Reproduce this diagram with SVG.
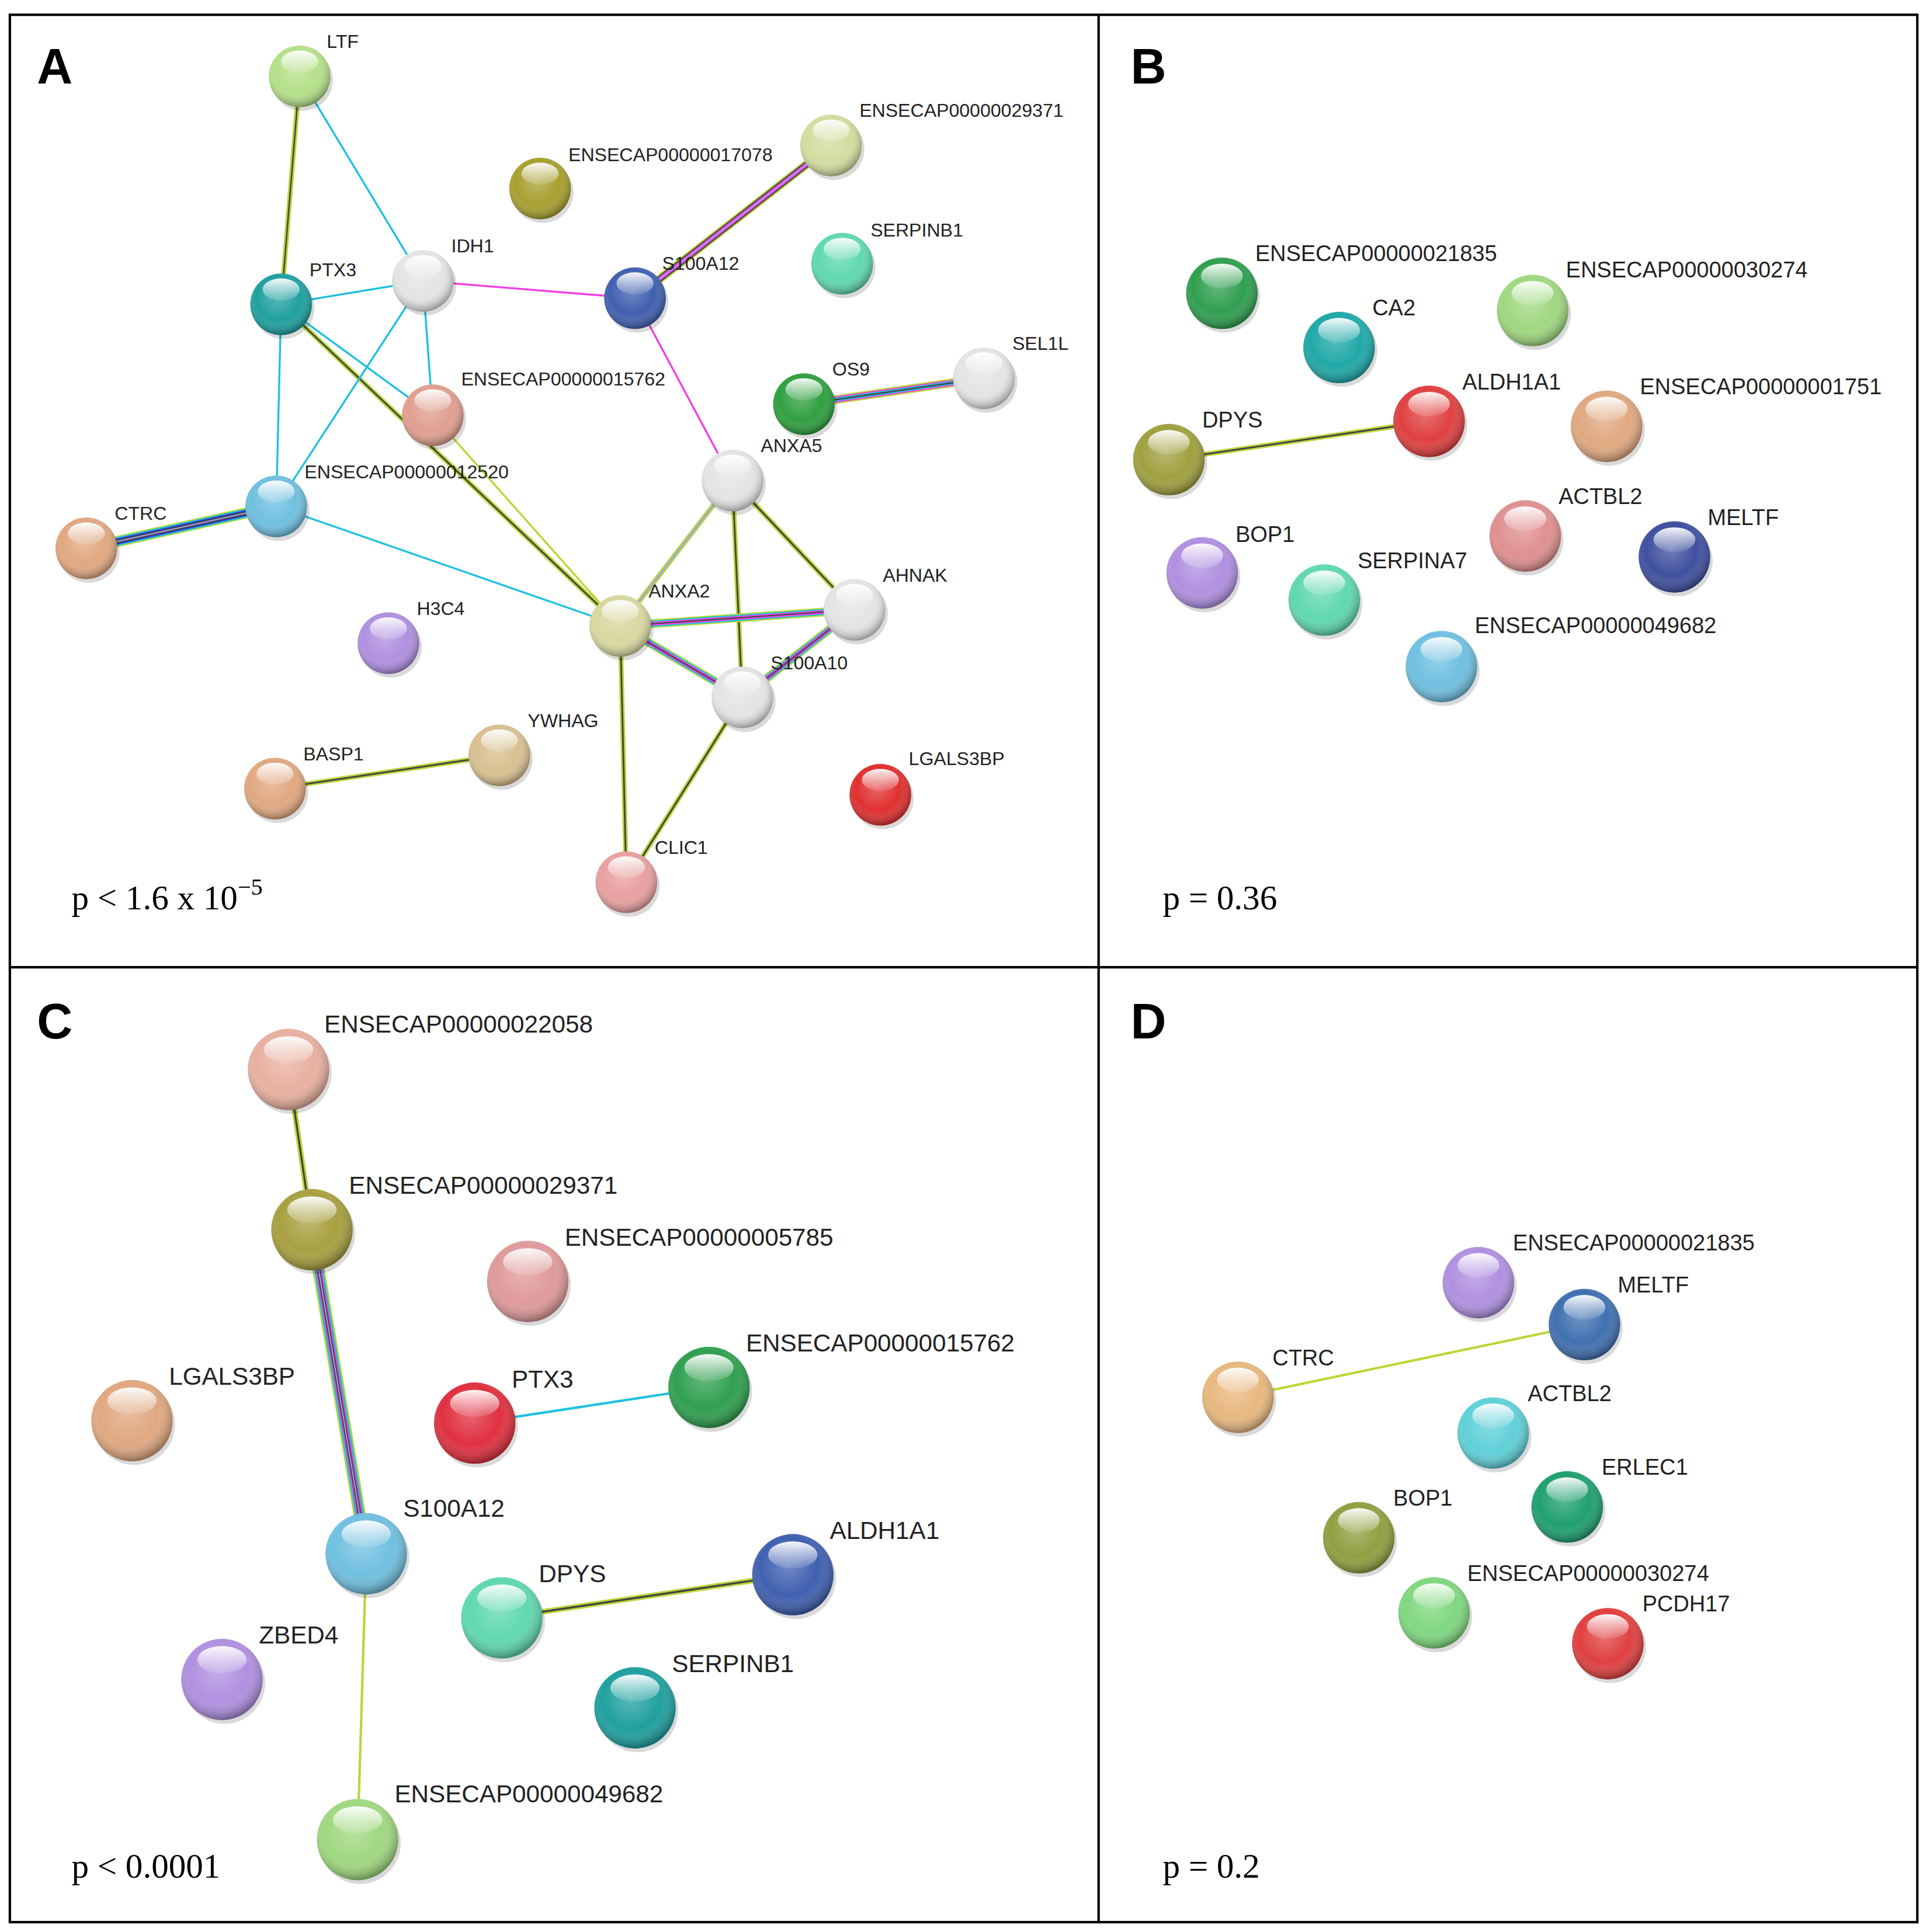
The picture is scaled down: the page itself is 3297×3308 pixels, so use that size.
<svg xmlns="http://www.w3.org/2000/svg" width="3297" height="3308" viewBox="0 0 3297 3308">
<style>
.la{font-family:"Liberation Sans",Arial,sans-serif;font-size:15.2px;fill:#222}
.lb{font-family:"Liberation Sans",Arial,sans-serif;font-size:18px;fill:#222}
.lc{font-family:"Liberation Sans",Arial,sans-serif;font-size:20px;fill:#222}
.pl{font-family:"Liberation Sans",Arial,sans-serif;font-size:40px;font-weight:bold;fill:#000}
.pv{font-family:"Liberation Serif","Times New Roman",serif;font-size:28px;fill:#000}
.sh{fill:url(#shade)}
.hl{fill:url(#hl)}
.ds{fill:#000;opacity:.15}
</style>
<defs>
<radialGradient id="shade" cx="0.45" cy="0.4" r="0.6">
<stop offset="0" stop-color="#fff" stop-opacity="0.25"/>
<stop offset="0.6" stop-color="#fff" stop-opacity="0"/>
<stop offset="1" stop-color="#000" stop-opacity="0.35"/>
</radialGradient>
<linearGradient id="hl" x1="0" y1="0" x2="0" y2="1">
<stop offset="0" stop-color="#fff" stop-opacity="0.95"/>
<stop offset="1" stop-color="#fff" stop-opacity="0.1"/>
</linearGradient>
</defs>
<rect width="3297" height="3308" fill="#fff"/>
<g transform="scale(2.1107 2.1097)">
<g id="frame" fill="none" stroke="#000" stroke-width="2">
<rect x="8" y="12" width="1547" height="1548"/>
<line x1="891" y1="12" x2="891" y2="1560"/>
<line x1="8" y1="785" x2="1555" y2="785"/>
</g>
<text class="pl" x="30" y="68">A</text>
<text class="pl" x="917" y="68">B</text>
<text class="pl" x="30" y="843">C</text>
<text class="pl" x="917" y="843">D</text>
<text class="pv" x="58" y="738">p &lt; 1.6 x 10<tspan dy="-12" font-size="19">−5</tspan></text>
<text class="pv" x="943" y="738">p = 0.36</text>
<text class="pv" x="58" y="1524">p &lt; 0.0001</text>
<text class="pv" x="943" y="1524">p = 0.2</text>

<g id="connectors" stroke-linecap="round">
<line x1="243" y1="62" x2="228" y2="247" stroke="#b8d838" stroke-width="4"/><line x1="243" y1="62" x2="228" y2="247" stroke="#444" stroke-width="1.2"/>
<line x1="243" y1="62" x2="343" y2="228" stroke="#20c0e0" stroke-width="1.6"/>
<line x1="228" y1="247" x2="343" y2="228" stroke="#20c0e0" stroke-width="1.6"/>
<line x1="228" y1="247" x2="351" y2="337" stroke="#20c0e0" stroke-width="1.6"/>
<line x1="228" y1="247" x2="224" y2="411" stroke="#20c0e0" stroke-width="1.6"/>
<line x1="228" y1="247" x2="503" y2="508" stroke="#b8d838" stroke-width="4"/><line x1="228" y1="247" x2="503" y2="508" stroke="#444" stroke-width="1.4"/>
<line x1="343" y1="228" x2="351" y2="337" stroke="#20c0e0" stroke-width="1.6"/>
<line x1="343" y1="228" x2="224" y2="411" stroke="#20c0e0" stroke-width="1.6"/>
<line x1="343" y1="228" x2="515" y2="242" stroke="#f040e0" stroke-width="1.6"/>
<line x1="515" y1="242" x2="674" y2="118" stroke="#b8d838" stroke-width="7"/><line x1="515" y1="242" x2="674" y2="118" stroke="#444" stroke-width="5"/><line x1="515" y1="242" x2="674" y2="118" stroke="#f040e0" stroke-width="3"/><line x1="515" y1="242" x2="674" y2="118" stroke="#a0a0f0" stroke-width="1"/>
<line x1="515" y1="242" x2="594" y2="390" stroke="#f040e0" stroke-width="1.6"/>
<line x1="652" y1="328" x2="798" y2="307" stroke="#b8d838" stroke-width="7"/><line x1="652" y1="328" x2="798" y2="307" stroke="#f040e0" stroke-width="5"/><line x1="652" y1="328" x2="798" y2="307" stroke="#20c0e0" stroke-width="3"/><line x1="652" y1="328" x2="798" y2="307" stroke="#444" stroke-width="1.2"/>
<line x1="351" y1="337" x2="503" y2="508" stroke="#b8d838" stroke-width="1.6"/>
<line x1="224" y1="411" x2="70" y2="445" stroke="#b8d838" stroke-width="9"/><line x1="224" y1="411" x2="70" y2="445" stroke="#20c0e0" stroke-width="7"/><line x1="224" y1="411" x2="70" y2="445" stroke="#3040d0" stroke-width="5"/><line x1="224" y1="411" x2="70" y2="445" stroke="#444" stroke-width="3"/><line x1="224" y1="411" x2="70" y2="445" stroke="#a0a0f0" stroke-width="1"/>
<line x1="224" y1="411" x2="503" y2="508" stroke="#20c0e0" stroke-width="1.6"/>
<line x1="594" y1="390" x2="503" y2="508" stroke="#b8d838" stroke-width="4"/><line x1="594" y1="390" x2="503" y2="508" stroke="#a0a0f0" stroke-width="1.4"/>
<line x1="594" y1="390" x2="693" y2="495" stroke="#b8d838" stroke-width="4"/><line x1="594" y1="390" x2="693" y2="495" stroke="#444" stroke-width="1.4"/>
<line x1="594" y1="390" x2="602" y2="566" stroke="#b8d838" stroke-width="4"/><line x1="594" y1="390" x2="602" y2="566" stroke="#444" stroke-width="1.4"/>
<line x1="503" y1="508" x2="693" y2="495" stroke="#b8d838" stroke-width="7"/><line x1="503" y1="508" x2="693" y2="495" stroke="#20c0e0" stroke-width="5"/><line x1="503" y1="508" x2="693" y2="495" stroke="#f040e0" stroke-width="3"/><line x1="503" y1="508" x2="693" y2="495" stroke="#444" stroke-width="1"/>
<line x1="503" y1="508" x2="602" y2="566" stroke="#b8d838" stroke-width="7"/><line x1="503" y1="508" x2="602" y2="566" stroke="#20c0e0" stroke-width="5"/><line x1="503" y1="508" x2="602" y2="566" stroke="#f040e0" stroke-width="3"/><line x1="503" y1="508" x2="602" y2="566" stroke="#444" stroke-width="1"/>
<line x1="693" y1="495" x2="602" y2="566" stroke="#b8d838" stroke-width="7"/><line x1="693" y1="495" x2="602" y2="566" stroke="#20c0e0" stroke-width="5"/><line x1="693" y1="495" x2="602" y2="566" stroke="#f040e0" stroke-width="3"/><line x1="693" y1="495" x2="602" y2="566" stroke="#444" stroke-width="1"/>
<line x1="503" y1="508" x2="508" y2="716" stroke="#b8d838" stroke-width="4"/><line x1="503" y1="508" x2="508" y2="716" stroke="#444" stroke-width="1.4"/>
<line x1="602" y1="566" x2="508" y2="716" stroke="#b8d838" stroke-width="4"/><line x1="602" y1="566" x2="508" y2="716" stroke="#444" stroke-width="1.4"/>
<line x1="223" y1="640" x2="405" y2="613" stroke="#b8d838" stroke-width="4"/><line x1="223" y1="640" x2="405" y2="613" stroke="#444" stroke-width="1.4"/>
<line x1="948" y1="373" x2="1159" y2="342" stroke="#b8d838" stroke-width="4"/><line x1="948" y1="373" x2="1159" y2="342" stroke="#444" stroke-width="1.4"/>
<line x1="234" y1="868" x2="253" y2="998" stroke="#b8d838" stroke-width="4.5"/><line x1="234" y1="868" x2="253" y2="998" stroke="#444" stroke-width="1.6"/>
<line x1="253" y1="998" x2="297" y2="1261" stroke="#b8d838" stroke-width="10"/><line x1="253" y1="998" x2="297" y2="1261" stroke="#20c0e0" stroke-width="7.5"/><line x1="253" y1="998" x2="297" y2="1261" stroke="#f040e0" stroke-width="5"/><line x1="253" y1="998" x2="297" y2="1261" stroke="#444" stroke-width="3"/><line x1="253" y1="998" x2="297" y2="1261" stroke="#a0a0f0" stroke-width="1"/>
<line x1="385" y1="1155" x2="575" y2="1126" stroke="#20c0e0" stroke-width="2"/>
<line x1="407" y1="1313" x2="643" y2="1278" stroke="#b8d838" stroke-width="4.5"/><line x1="407" y1="1313" x2="643" y2="1278" stroke="#444" stroke-width="1.6"/>
<line x1="297" y1="1261" x2="290" y2="1493" stroke="#b8d838" stroke-width="2"/>
<line x1="1004" y1="1134" x2="1285" y2="1075" stroke="#b8d838" stroke-width="2"/>
</g>

<g id="A_LTF"><circle class="ds" cx="245" cy="65" r="25"/><circle cx="243" cy="62" r="25" fill="#b5e08a"/><circle class="sh" cx="243" cy="62" r="25"/><ellipse class="hl" cx="243" cy="50" rx="15" ry="9"/><text class="la" x="265" y="39">LTF</text></g>
<g id="A_29371"><circle class="ds" cx="676" cy="121" r="25"/><circle cx="674" cy="118" r="25" fill="#d4dca0"/><circle class="sh" cx="674" cy="118" r="25"/><ellipse class="hl" cx="674" cy="106" rx="15" ry="9"/><text class="la" x="697" y="95">ENSECAP00000029371</text></g>
<g id="A_17078"><circle class="ds" cx="440" cy="156" r="25"/><circle cx="438" cy="153" r="25" fill="#a8a030"/><circle class="sh" cx="438" cy="153" r="25"/><ellipse class="hl" cx="438" cy="141" rx="15" ry="9"/><text class="la" x="461" y="131">ENSECAP00000017078</text></g>
<g id="A_SERPINB1"><circle class="ds" cx="685" cy="217" r="25"/><circle cx="683" cy="214" r="25" fill="#60d8b0"/><circle class="sh" cx="683" cy="214" r="25"/><ellipse class="hl" cx="683" cy="202" rx="15" ry="9"/><text class="la" x="706" y="192">SERPINB1</text></g>
<g id="A_S100A12"><circle class="ds" cx="517" cy="245" r="25"/><circle cx="515" cy="242" r="25" fill="#4060b0"/><circle class="sh" cx="515" cy="242" r="25"/><ellipse class="hl" cx="515" cy="230" rx="15" ry="9"/><text class="la" x="537" y="219">S100A12</text></g>
<g id="A_IDH1"><circle class="ds" cx="345" cy="231" r="25"/><circle cx="343" cy="228" r="25" fill="#e4e4e4"/><circle class="sh" cx="343" cy="228" r="25"/><ellipse class="hl" cx="343" cy="216" rx="15" ry="9"/><text class="la" x="366" y="205">IDH1</text></g>
<g id="A_PTX3"><circle class="ds" cx="230" cy="250" r="25"/><circle cx="228" cy="247" r="25" fill="#20a0a0"/><circle class="sh" cx="228" cy="247" r="25"/><ellipse class="hl" cx="228" cy="235" rx="15" ry="9"/><text class="la" x="251" y="224">PTX3</text></g>
<g id="A_SEL1L"><circle class="ds" cx="800" cy="310" r="25"/><circle cx="798" cy="307" r="25" fill="#e4e4e4"/><circle class="sh" cx="798" cy="307" r="25"/><ellipse class="hl" cx="798" cy="295" rx="15" ry="9"/><text class="la" x="821" y="284">SEL1L</text></g>
<g id="A_OS9"><circle class="ds" cx="654" cy="331" r="25"/><circle cx="652" cy="328" r="25" fill="#30a040"/><circle class="sh" cx="652" cy="328" r="25"/><ellipse class="hl" cx="652" cy="316" rx="15" ry="9"/><text class="la" x="675" y="305">OS9</text></g>
<g id="A_15762"><circle class="ds" cx="353" cy="340" r="25"/><circle cx="351" cy="337" r="25" fill="#e0a090"/><circle class="sh" cx="351" cy="337" r="25"/><ellipse class="hl" cx="351" cy="325" rx="15" ry="9"/><text class="la" x="374" y="313">ENSECAP00000015762</text></g>
<g id="A_ANXA5"><circle class="ds" cx="596" cy="393" r="25"/><circle cx="594" cy="390" r="25" fill="#e4e4e4"/><circle class="sh" cx="594" cy="390" r="25"/><ellipse class="hl" cx="594" cy="378" rx="15" ry="9"/><text class="la" x="617" y="367">ANXA5</text></g>
<g id="A_12520"><circle class="ds" cx="226" cy="414" r="25"/><circle cx="224" cy="411" r="25" fill="#70c0e0"/><circle class="sh" cx="224" cy="411" r="25"/><ellipse class="hl" cx="224" cy="399" rx="15" ry="9"/><text class="la" x="247" y="388">ENSECAP00000012520</text></g>
<g id="A_CTRC"><circle class="ds" cx="72" cy="448" r="25"/><circle cx="70" cy="445" r="25" fill="#e0a880"/><circle class="sh" cx="70" cy="445" r="25"/><ellipse class="hl" cx="70" cy="433" rx="15" ry="9"/><text class="la" x="93" y="422">CTRC</text></g>
<g id="A_AHNAK"><circle class="ds" cx="695" cy="498" r="25"/><circle cx="693" cy="495" r="25" fill="#e4e4e4"/><circle class="sh" cx="693" cy="495" r="25"/><ellipse class="hl" cx="693" cy="483" rx="15" ry="9"/><text class="la" x="716" y="472">AHNAK</text></g>
<g id="A_ANXA2"><circle class="ds" cx="505" cy="511" r="25"/><circle cx="503" cy="508" r="25" fill="#d8d8a0"/><circle class="sh" cx="503" cy="508" r="25"/><ellipse class="hl" cx="503" cy="496" rx="15" ry="9"/><text class="la" x="526" y="485">ANXA2</text></g>
<g id="A_H3C4"><circle class="ds" cx="317" cy="525" r="25"/><circle cx="315" cy="522" r="25" fill="#b090e0"/><circle class="sh" cx="315" cy="522" r="25"/><ellipse class="hl" cx="315" cy="510" rx="15" ry="9"/><text class="la" x="338" y="499">H3C4</text></g>
<g id="A_S100A10"><circle class="ds" cx="604" cy="569" r="25"/><circle cx="602" cy="566" r="25" fill="#e4e4e4"/><circle class="sh" cx="602" cy="566" r="25"/><ellipse class="hl" cx="602" cy="554" rx="15" ry="9"/><text class="la" x="625" y="543">S100A10</text></g>
<g id="A_YWHAG"><circle class="ds" cx="407" cy="616" r="25"/><circle cx="405" cy="613" r="25" fill="#d8c090"/><circle class="sh" cx="405" cy="613" r="25"/><ellipse class="hl" cx="405" cy="601" rx="15" ry="9"/><text class="la" x="428" y="590">YWHAG</text></g>
<g id="A_BASP1"><circle class="ds" cx="225" cy="643" r="25"/><circle cx="223" cy="640" r="25" fill="#e0a880"/><circle class="sh" cx="223" cy="640" r="25"/><ellipse class="hl" cx="223" cy="628" rx="15" ry="9"/><text class="la" x="246" y="617">BASP1</text></g>
<g id="A_LGALS3BP"><circle class="ds" cx="716" cy="648" r="25"/><circle cx="714" cy="645" r="25" fill="#e03030"/><circle class="sh" cx="714" cy="645" r="25"/><ellipse class="hl" cx="714" cy="633" rx="15" ry="9"/><text class="la" x="737" y="621">LGALS3BP</text></g>
<g id="A_CLIC1"><circle class="ds" cx="510" cy="719" r="25"/><circle cx="508" cy="716" r="25" fill="#e8a0a0"/><circle class="sh" cx="508" cy="716" r="25"/><ellipse class="hl" cx="508" cy="704" rx="15" ry="9"/><text class="la" x="531" y="693">CLIC1</text></g>

<g id="B_21835"><circle class="ds" cx="993" cy="241" r="29"/><circle cx="991" cy="238" r="29" fill="#30a050"/><circle class="sh" cx="991" cy="238" r="29"/><ellipse class="hl" cx="991" cy="224" rx="17" ry="10"/><text class="lb" x="1018" y="212">ENSECAP00000021835</text></g>
<g id="B_CA2"><circle class="ds" cx="1088" cy="285" r="29"/><circle cx="1086" cy="282" r="29" fill="#20a8a8"/><circle class="sh" cx="1086" cy="282" r="29"/><ellipse class="hl" cx="1086" cy="268" rx="17" ry="10"/><text class="lb" x="1113" y="256">CA2</text></g>
<g id="B_30274"><circle class="ds" cx="1245" cy="255" r="29"/><circle cx="1243" cy="252" r="29" fill="#a0d880"/><circle class="sh" cx="1243" cy="252" r="29"/><ellipse class="hl" cx="1243" cy="238" rx="17" ry="10"/><text class="lb" x="1270" y="225">ENSECAP00000030274</text></g>
<g id="B_ALDH1A1"><circle class="ds" cx="1161" cy="345" r="29"/><circle cx="1159" cy="342" r="29" fill="#e04040"/><circle class="sh" cx="1159" cy="342" r="29"/><ellipse class="hl" cx="1159" cy="328" rx="17" ry="10"/><text class="lb" x="1186" y="316">ALDH1A1</text></g>
<g id="B_1751"><circle class="ds" cx="1305" cy="349" r="29"/><circle cx="1303" cy="346" r="29" fill="#e0a880"/><circle class="sh" cx="1303" cy="346" r="29"/><ellipse class="hl" cx="1303" cy="332" rx="17" ry="10"/><text class="lb" x="1330" y="320">ENSECAP00000001751</text></g>
<g id="B_DPYS"><circle class="ds" cx="950" cy="376" r="29"/><circle cx="948" cy="373" r="29" fill="#a0a040"/><circle class="sh" cx="948" cy="373" r="29"/><ellipse class="hl" cx="948" cy="359" rx="17" ry="10"/><text class="lb" x="975" y="347">DPYS</text></g>
<g id="B_ACTBL2"><circle class="ds" cx="1239" cy="438" r="29"/><circle cx="1237" cy="435" r="29" fill="#e09090"/><circle class="sh" cx="1237" cy="435" r="29"/><ellipse class="hl" cx="1237" cy="421" rx="17" ry="10"/><text class="lb" x="1264" y="409">ACTBL2</text></g>
<g id="B_MELTF"><circle class="ds" cx="1360" cy="455" r="29"/><circle cx="1358" cy="452" r="29" fill="#4050a0"/><circle class="sh" cx="1358" cy="452" r="29"/><ellipse class="hl" cx="1358" cy="438" rx="17" ry="10"/><text class="lb" x="1385" y="426">MELTF</text></g>
<g id="B_BOP1"><circle class="ds" cx="977" cy="468" r="29"/><circle cx="975" cy="465" r="29" fill="#b090e0"/><circle class="sh" cx="975" cy="465" r="29"/><ellipse class="hl" cx="975" cy="451" rx="17" ry="10"/><text class="lb" x="1002" y="440">BOP1</text></g>
<g id="B_SERPINA7"><circle class="ds" cx="1076" cy="490" r="29"/><circle cx="1074" cy="487" r="29" fill="#60d8b0"/><circle class="sh" cx="1074" cy="487" r="29"/><ellipse class="hl" cx="1074" cy="473" rx="17" ry="10"/><text class="lb" x="1101" y="461">SERPINA7</text></g>
<g id="B_49682"><circle class="ds" cx="1171" cy="544" r="29"/><circle cx="1169" cy="541" r="29" fill="#70c0e0"/><circle class="sh" cx="1169" cy="541" r="29"/><ellipse class="hl" cx="1169" cy="527" rx="17" ry="10"/><text class="lb" x="1196" y="514">ENSECAP00000049682</text></g>

<g id="C_22058"><circle class="ds" cx="236" cy="871" r="33"/><circle cx="234" cy="868" r="33" fill="#e8b0a0"/><circle class="sh" cx="234" cy="868" r="33"/><ellipse class="hl" cx="234" cy="852" rx="20" ry="11"/><text class="lc" x="263" y="838">ENSECAP00000022058</text></g>
<g id="C_29371"><circle class="ds" cx="255" cy="1001" r="33"/><circle cx="253" cy="998" r="33" fill="#a8a040"/><circle class="sh" cx="253" cy="998" r="33"/><ellipse class="hl" cx="253" cy="982" rx="20" ry="11"/><text class="lc" x="283" y="969">ENSECAP00000029371</text></g>
<g id="C_5785"><circle class="ds" cx="430" cy="1043" r="33"/><circle cx="428" cy="1040" r="33" fill="#e09a9a"/><circle class="sh" cx="428" cy="1040" r="33"/><ellipse class="hl" cx="428" cy="1024" rx="20" ry="11"/><text class="lc" x="458" y="1011">ENSECAP00000005785</text></g>
<g id="C_15762"><circle class="ds" cx="577" cy="1129" r="33"/><circle cx="575" cy="1126" r="33" fill="#30a050"/><circle class="sh" cx="575" cy="1126" r="33"/><ellipse class="hl" cx="575" cy="1110" rx="20" ry="11"/><text class="lc" x="605" y="1097">ENSECAP00000015762</text></g>
<g id="C_LGALS3BP"><circle class="ds" cx="109" cy="1156" r="33"/><circle cx="107" cy="1153" r="33" fill="#e0a880"/><circle class="sh" cx="107" cy="1153" r="33"/><ellipse class="hl" cx="107" cy="1137" rx="20" ry="11"/><text class="lc" x="137" y="1124">LGALS3BP</text></g>
<g id="C_PTX3"><circle class="ds" cx="387" cy="1158" r="33"/><circle cx="385" cy="1155" r="33" fill="#e03040"/><circle class="sh" cx="385" cy="1155" r="33"/><ellipse class="hl" cx="385" cy="1139" rx="20" ry="11"/><text class="lc" x="415" y="1126">PTX3</text></g>
<g id="C_S100A12"><circle class="ds" cx="299" cy="1264" r="33"/><circle cx="297" cy="1261" r="33" fill="#70c0e0"/><circle class="sh" cx="297" cy="1261" r="33"/><ellipse class="hl" cx="297" cy="1245" rx="20" ry="11"/><text class="lc" x="327" y="1231">S100A12</text></g>
<g id="C_ALDH1A1"><circle class="ds" cx="645" cy="1281" r="33"/><circle cx="643" cy="1278" r="33" fill="#4060b0"/><circle class="sh" cx="643" cy="1278" r="33"/><ellipse class="hl" cx="643" cy="1262" rx="20" ry="11"/><text class="lc" x="673" y="1249">ALDH1A1</text></g>
<g id="C_DPYS"><circle class="ds" cx="409" cy="1316" r="33"/><circle cx="407" cy="1313" r="33" fill="#60d8b0"/><circle class="sh" cx="407" cy="1313" r="33"/><ellipse class="hl" cx="407" cy="1297" rx="20" ry="11"/><text class="lc" x="437" y="1284">DPYS</text></g>
<g id="C_ZBED4"><circle class="ds" cx="182" cy="1366" r="33"/><circle cx="180" cy="1363" r="33" fill="#b090e0"/><circle class="sh" cx="180" cy="1363" r="33"/><ellipse class="hl" cx="180" cy="1347" rx="20" ry="11"/><text class="lc" x="210" y="1334">ZBED4</text></g>
<g id="C_SERPINB1"><circle class="ds" cx="517" cy="1389" r="33"/><circle cx="515" cy="1386" r="33" fill="#20a0a0"/><circle class="sh" cx="515" cy="1386" r="33"/><ellipse class="hl" cx="515" cy="1370" rx="20" ry="11"/><text class="lc" x="545" y="1357">SERPINB1</text></g>
<g id="C_49682"><circle class="ds" cx="292" cy="1496" r="33"/><circle cx="290" cy="1493" r="33" fill="#a0d880"/><circle class="sh" cx="290" cy="1493" r="33"/><ellipse class="hl" cx="290" cy="1477" rx="20" ry="11"/><text class="lc" x="320" y="1463">ENSECAP00000049682</text></g>

<g id="D_21835"><circle class="ds" cx="1201" cy="1044" r="29"/><circle cx="1199" cy="1041" r="29" fill="#b090e0"/><circle class="sh" cx="1199" cy="1041" r="29"/><ellipse class="hl" cx="1199" cy="1027" rx="17" ry="10"/><text class="lb" x="1227" y="1015">ENSECAP00000021835</text></g>
<g id="D_MELTF"><circle class="ds" cx="1287" cy="1078" r="29"/><circle cx="1285" cy="1075" r="29" fill="#4070b0"/><circle class="sh" cx="1285" cy="1075" r="29"/><ellipse class="hl" cx="1285" cy="1061" rx="17" ry="10"/><text class="lb" x="1312" y="1049">MELTF</text></g>
<g id="D_CTRC"><circle class="ds" cx="1006" cy="1137" r="29"/><circle cx="1004" cy="1134" r="29" fill="#e8b880"/><circle class="sh" cx="1004" cy="1134" r="29"/><ellipse class="hl" cx="1004" cy="1120" rx="17" ry="10"/><text class="lb" x="1032" y="1108">CTRC</text></g>
<g id="D_ACTBL2"><circle class="ds" cx="1213" cy="1166" r="29"/><circle cx="1211" cy="1163" r="29" fill="#60d0d8"/><circle class="sh" cx="1211" cy="1163" r="29"/><ellipse class="hl" cx="1211" cy="1149" rx="17" ry="10"/><text class="lb" x="1239" y="1137">ACTBL2</text></g>
<g id="D_ERLEC1"><circle class="ds" cx="1273" cy="1226" r="29"/><circle cx="1271" cy="1223" r="29" fill="#20a070"/><circle class="sh" cx="1271" cy="1223" r="29"/><ellipse class="hl" cx="1271" cy="1209" rx="17" ry="10"/><text class="lb" x="1299" y="1197">ERLEC1</text></g>
<g id="D_BOP1"><circle class="ds" cx="1104" cy="1251" r="29"/><circle cx="1102" cy="1248" r="29" fill="#90a040"/><circle class="sh" cx="1102" cy="1248" r="29"/><ellipse class="hl" cx="1102" cy="1234" rx="17" ry="10"/><text class="lb" x="1130" y="1222">BOP1</text></g>
<g id="D_30274"><circle class="ds" cx="1165" cy="1312" r="29"/><circle cx="1163" cy="1309" r="29" fill="#80d880"/><circle class="sh" cx="1163" cy="1309" r="29"/><ellipse class="hl" cx="1163" cy="1295" rx="17" ry="10"/><text class="lb" x="1190" y="1283">ENSECAP00000030274</text></g>
<g id="D_PCDH17"><circle class="ds" cx="1306" cy="1337" r="29"/><circle cx="1304" cy="1334" r="29" fill="#e04040"/><circle class="sh" cx="1304" cy="1334" r="29"/><ellipse class="hl" cx="1304" cy="1320" rx="17" ry="10"/><text class="lb" x="1332" y="1308">PCDH17</text></g>
</g>
</svg>
